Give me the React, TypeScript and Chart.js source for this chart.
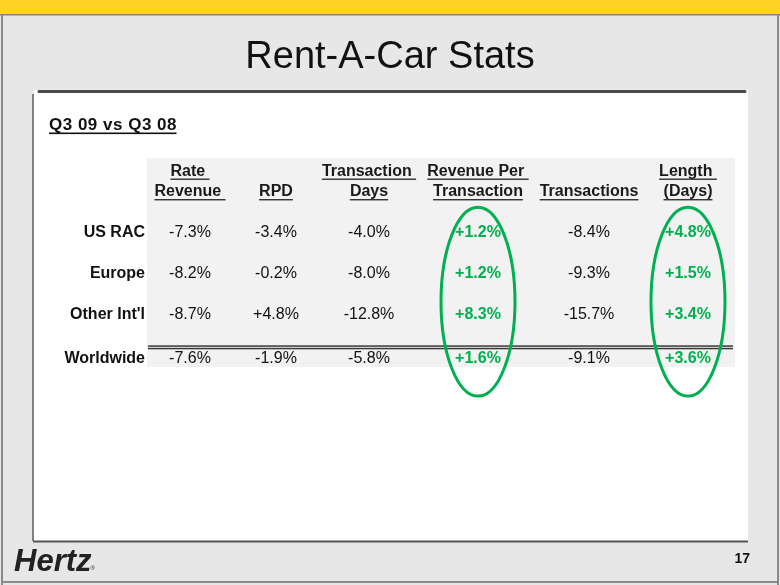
import { useEffect, useRef } from 'react';
import { Chart, registerables } from 'chart.js';

Chart.register(...registerables);

// ---------- data ----------
const TITLE = 'Rent-A-Car Stats';
const SUBTITLE = 'Q3 09 vs Q3 08';
const HEADER_LINE_1 = ['Rate ', '', 'Transaction ', 'Revenue Per ', '', 'Length '];
const HEADER_LINE_2 = ['Revenue ', 'RPD', 'Days', 'Transaction', 'Transactions', '(Days)'];
const REGIONS = ['US RAC', 'Europe', "Other Int'l", 'Worldwide'];
const RATE_REVENUE = [-7.3, -8.2, -8.7, -7.6];
const RPD = [-3.4, -0.2, 4.8, -1.9];
const TRANSACTION_DAYS = [-4.0, -8.0, -12.8, -5.8];
const REVENUE_PER_TRANSACTION = [1.2, 1.2, 8.3, 1.6];
const TRANSACTIONS = [-8.4, -9.3, -15.7, -9.1];
const LENGTH_DAYS = [4.8, 1.5, 3.4, 3.6];
const SERIES = [RATE_REVENUE, RPD, TRANSACTION_DAYS, REVENUE_PER_TRANSACTION, TRANSACTIONS, LENGTH_DAYS];
const HIGHLIGHTED_COLUMNS = [3, 5];
const PAGE_NUMBER = '17';
const LOGO = 'Hertz';

// ---------- layout / style ----------
const COL_WIDTHS = [86, 86, 100, 118, 104, 94];
const TOTAL_ROW_SHIFT = 0.07;
const GREEN = '#00B050';
const FONT = '"Liberation Sans", Arial, sans-serif';

const colCenters = (() => {
  const out: number[] = [];
  let acc = 0;
  for (const w of COL_WIDTHS) {
    out.push(acc + w / 2);
    acc += w;
  }
  return out;
})();
const totalWidth = COL_WIDTHS.reduce((a, b) => a + b, 0);

const fmt = (v: number) => (v > 0 ? '+' : '') + v.toFixed(1) + '%';
const rowPos = (r: number) => r + (r === REGIONS.length - 1 ? TOTAL_ROW_SHIFT : 0);

const slidePlugin = {
  id: 'slide',
  beforeDraw(chart: any) {
    const ctx = chart.ctx as CanvasRenderingContext2D;
    const { width, height } = chart;
    const area = chart.chartArea;
    ctx.save();
    // slide background
    ctx.fillStyle = '#E7E7E7';
    ctx.fillRect(0, 0, width, height);
    // yellow band
    ctx.fillStyle = '#FFD324';
    ctx.fillRect(0, 0, width, 14);
    ctx.fillStyle = '#8E8360';
    ctx.fillRect(0, 14, width, 1.5);
    // slide borders
    ctx.fillStyle = '#8A8A8A';
    ctx.fillRect(1, 14, 2, height - 14);
    ctx.fillRect(width - 3, 14, 2, height - 14);
    ctx.fillRect(1, height - 4, width - 2, 2);
    // panel
    ctx.fillStyle = '#FFFFFF';
    ctx.fillRect(34, 90, 714, 451);
    ctx.strokeStyle = '#808080';
    ctx.lineWidth = 2;
    ctx.beginPath();
    ctx.moveTo(33, 94);
    ctx.lineTo(33, 541);
    ctx.stroke();
    ctx.strokeStyle = '#555555';
    ctx.lineWidth = 2.2;
    ctx.beginPath();
    ctx.moveTo(33, 541.5);
    ctx.lineTo(748, 541.5);
    ctx.stroke();
    ctx.strokeStyle = '#4A4A4A';
    ctx.lineWidth = 3;
    ctx.lineCap = 'round';
    ctx.beginPath();
    ctx.moveTo(39, 91.5);
    ctx.lineTo(745, 91.5);
    ctx.stroke();
    ctx.lineCap = 'butt';
    // table background = chart area
    ctx.fillStyle = '#F2F2F2';
    ctx.fillRect(area.left, area.top, area.right - area.left, area.bottom - area.top);

    // title
    ctx.fillStyle = '#111111';
    ctx.font = `38px ${FONT}`;
    ctx.textAlign = 'center';
    ctx.textBaseline = 'alphabetic';
    ctx.fillText(TITLE, width / 2, 68);

    // subtitle
    ctx.font = `bold 17px ${FONT}`;
    ctx.textAlign = 'left';
    (ctx as any).letterSpacing = '0.5px';
    ctx.fillText(SUBTITLE, 49, 130);
    const sw = ctx.measureText(SUBTITLE).width;
    (ctx as any).letterSpacing = '0px';
    ctx.fillRect(49, 132.5, sw - 0.5, 1.6);

    // logo
    ctx.fillStyle = '#222222';
    ctx.font = `italic bold 31px ${FONT}`;
    ctx.fillText(LOGO, 14, 571);
    const lw = ctx.measureText(LOGO).width;
    ctx.font = `6px ${FONT}`;
    ctx.fillText('®', 13 + lw, 570);

    // page number
    ctx.fillStyle = '#111111';
    ctx.font = `bold 14px ${FONT}`;
    ctx.textAlign = 'right';
    ctx.fillText(PAGE_NUMBER, 750, 563);
    ctx.restore();
  },
  afterDatasetsDraw(chart: any) {
    const ctx = chart.ctx as CanvasRenderingContext2D;
    const xs = chart.scales.x;
    const ys = chart.scales.y;
    const area = chart.chartArea;
    ctx.save();
    ctx.textBaseline = 'middle';

    // headers
    const drawHeader = (text: string, x: number, y: number) => {
      if (!text) return;
      ctx.font = `bold 16px ${FONT}`;
      ctx.textAlign = 'center';
      ctx.fillStyle = '#1A1A1A';
      ctx.fillText(text, x, y);
      const w = ctx.measureText(text).width;
      ctx.fillStyle = '#333333';
      ctx.fillRect(x - w / 2, y + 7, w, 1.4);
    };
    colCenters.forEach((c, i) => {
      const x = xs.getPixelForValue(c);
      drawHeader(HEADER_LINE_1[i], x, ys.getPixelForValue(-1.5));
      drawHeader(HEADER_LINE_2[i], x, ys.getPixelForValue(-1.0));
    });

    // row labels
    ctx.font = `bold 16px ${FONT}`;
    ctx.textAlign = 'right';
    ctx.fillStyle = '#111111';
    REGIONS.forEach((r, i) => {
      ctx.fillText(r, area.left - 2, ys.getPixelForValue(rowPos(i)));
    });

    // total separator (double line)
    const yTot = ys.getPixelForValue(rowPos(REGIONS.length - 1));
    ctx.fillStyle = '#3A3A3A';
    ctx.fillRect(area.left + 1, yTot - 13.5, area.right - area.left - 3, 1.5);
    ctx.fillRect(area.left + 1, yTot - 11, area.right - area.left - 3, 1.5);

    // cell values from dataset elements
    chart.data.datasets.forEach((ds: any, di: number) => {
      const meta = chart.getDatasetMeta(di);
      const hl = HIGHLIGHTED_COLUMNS.includes(di);
      meta.data.forEach((el: any, pi: number) => {
        const v = ds.data[pi].v as number;
        ctx.font = hl ? `bold 16px ${FONT}` : `16px ${FONT}`;
        ctx.fillStyle = hl ? GREEN : '#111111';
        ctx.textAlign = 'center';
        ctx.fillText(fmt(v), el.x, el.y);
      });
    });

    // highlight ellipses
    ctx.strokeStyle = GREEN;
    ctx.lineWidth = 3;
    HIGHLIGHTED_COLUMNS.forEach((ci) => {
      const cx = xs.getPixelForValue(colCenters[ci]);
      const top = ys.getPixelForValue(-0.63);
      const bottom = ys.getPixelForValue(3.98);
      ctx.beginPath();
      ctx.ellipse(cx, (top + bottom) / 2, 37, (bottom - top) / 2, 0, 0, Math.PI * 2);
      ctx.stroke();
    });
    ctx.restore();
  },
};

export default function App() {
  const ref = useRef<HTMLCanvasElement | null>(null);
  useEffect(() => {
    if (!ref.current) return;
    const chart = new Chart(ref.current, {
      type: 'scatter',
      data: {
        datasets: SERIES.map((s, ci) => ({
          label: HEADER_LINE_2[ci],
          data: s.map((v, ri) => ({ x: colCenters[ci], y: rowPos(ri), v })),
          pointRadius: 0,
          pointHoverRadius: 0,
        })) as any,
      },
      options: {
        animation: false,
        responsive: false,
        devicePixelRatio: 1,
        layout: { padding: { left: 147, right: 45, top: 158, bottom: 218 } },
        scales: {
          x: { type: 'linear', min: 0, max: totalWidth, display: false },
          y: { type: 'linear', min: -1.83, max: 3.27, reverse: true, display: false },
        },
        plugins: { legend: { display: false }, tooltip: { enabled: false }, title: { display: false } },
        events: [],
      },
      plugins: [slidePlugin],
    });
    return () => chart.destroy();
  }, []);
  return (
    <div style={{ position: 'fixed', left: 0, top: 0, width: 780, height: 585 }}>
      <canvas ref={ref} width={780} height={585} style={{ display: 'block' }} />
    </div>
  );
}
